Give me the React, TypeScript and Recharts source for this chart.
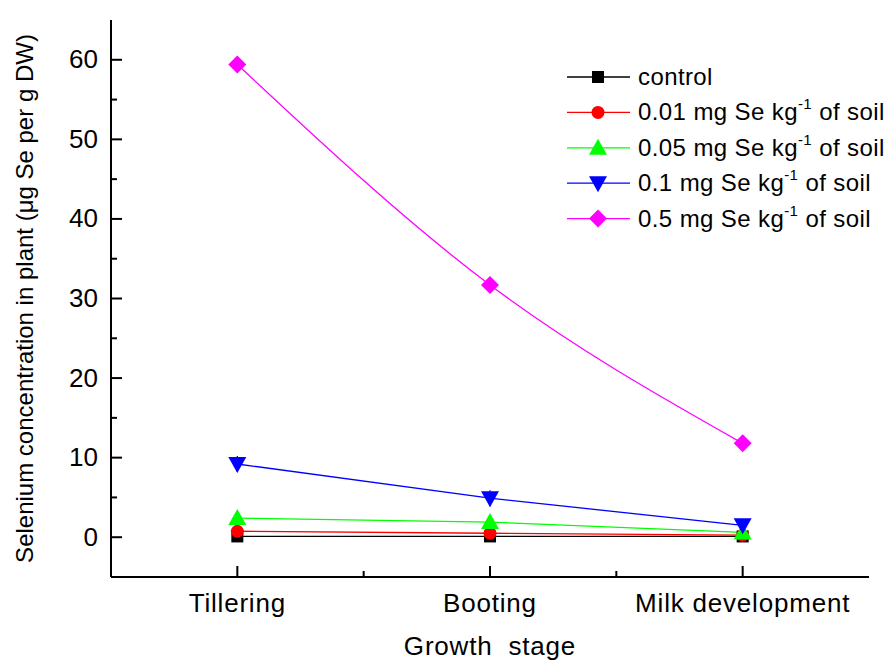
import { LineChart, Line, XAxis, YAxis, ErrorBar } from "recharts";

const stages = ["Tillering", "Booting", "Milk development"];
const control = [0.1, 0.1, 0.1];
const se001 = [0.75, 0.5, 0.25];
const se005 = [2.4, 1.9, 0.6];
const se01 = [9.2, 4.9, 1.5];
const se01Err = [1.0, 1.0, 0.8];
const se05 = [59.4, 31.7, 11.8];
const yTicks = [0, 5, 10, 15, 20, 25, 30, 35, 40, 45, 50, 55, 60];
const xTicks = [0, 0.5, 1, 1.5, 2];

const series = [
  { key: "control", name: "control", sup: "", rest: "", color: "#000000", shape: "square" },
  { key: "se001", name: "0.01 mg Se kg", sup: "-1", rest: " of soil", color: "#ff0000", shape: "circle" },
  { key: "se005", name: "0.05 mg Se kg", sup: "-1", rest: " of soil", color: "#00ff00", shape: "up" },
  { key: "se01", name: "0.1 mg Se kg", sup: "-1", rest: " of soil", color: "#0000ff", shape: "down" },
  { key: "se05", name: "0.5 mg Se kg", sup: "-1", rest: " of soil", color: "#ff00ff", shape: "diamond" },
];

const data = stages.map((s, i) => ({
  x: i,
  stage: s,
  control: control[i],
  se001: se001[i],
  se005: se005[i],
  se01: se01[i],
  se01Err: se01Err[i],
  se05: se05[i],
}));

const FONT = "'Liberation Sans', Arial, sans-serif";

function Marker({ cx, cy, shape, color }: any) {
  if (cx == null || cy == null) return null;
  if (shape === "square") return <rect x={cx - 6} y={cy - 6} width={12} height={12} fill={color} />;
  if (shape === "circle") return <circle cx={cx} cy={cy} r={6.5} fill={color} />;
  if (shape === "up")
    return <polygon points={`${cx},${cy - 9} ${cx - 9},${cy + 7} ${cx + 9},${cy + 7}`} fill={color} />;
  if (shape === "down")
    return <polygon points={`${cx},${cy + 9} ${cx - 9},${cy - 7} ${cx + 9},${cy - 7}`} fill={color} />;
  return <polygon points={`${cx},${cy - 9} ${cx + 9},${cy} ${cx},${cy + 9} ${cx - 9},${cy}`} fill={color} />;
}

function XTick({ x, y, payload }: any) {
  const v = payload.value;
  const major = Number.isInteger(v);
  return (
    <g>
      <line x1={x} x2={x} y1={y} y2={y - (major ? 11 : 6)} stroke="#000" strokeWidth={2} />
      {major && (
        <text x={x} y={y + 35} textAnchor="middle" fontSize={26} letterSpacing={0.8} fontFamily={FONT} fill="#000">
          {stages[v]}
        </text>
      )}
    </g>
  );
}

function YTick({ x, y, payload }: any) {
  const v = payload.value;
  const major = v % 10 === 0;
  return (
    <g>
      <line x1={x} x2={x + (major ? 11 : 6)} y1={y} y2={y} stroke="#000" strokeWidth={2} />
      {major && (
        <text x={x - 13} y={y + 8.5} textAnchor="end" fontSize={26} fontFamily={FONT} fill="#000">
          {v}
        </text>
      )}
    </g>
  );
}

function LegendBox() {
  return (
    <svg width={330} height={200}>
      {series.map((s, i) => {
        const cy = 15 + i * 35.4;
        return (
          <g key={s.key}>
            <line x1={7} x2={70} y1={cy} y2={cy} stroke={s.color} strokeWidth={1.3} />
            <Marker cx={38} cy={cy} shape={s.shape} color={s.color} />
            <text x={78} y={cy + 8} fontSize={24} letterSpacing={0.4} fontFamily={FONT} fill="#000">
              {s.name}
              {s.sup && (
                <tspan fontSize={15} dy={-11}>
                  {s.sup}
                </tspan>
              )}
              {s.rest && <tspan dy={11}>{s.rest}</tspan>}
            </text>
          </g>
        );
      })}
    </svg>
  );
}

export default function App() {
  return (
    <div style={{ position: "absolute", left: 0, top: 0, width: 887, height: 661, background: "#fff" }}>
      <LineChart width={887} height={661} data={data} margin={{ top: 20, right: 18, bottom: 0, left: 0 }}>
        <XAxis
          dataKey="x"
          type="number"
          domain={[-0.5, 2.5]}
          ticks={xTicks}
          interval={0}
          height={84}
          tickSize={0}
          tickMargin={0}
          tickLine={false}
          axisLine={{ stroke: "#000", strokeWidth: 2 }}
          tick={<XTick />}
          label={({ viewBox }: any) => (
            <text
              x={viewBox.x + viewBox.width / 2}
              y={655}
              textAnchor="middle"
              fontSize={26}
              letterSpacing={0.8}
              fontFamily={FONT}
              fill="#000"
            >
              {"Growth\u00a0 stage"}
            </text>
          )}
        />
        <YAxis
          type="number"
          domain={[-5, 65]}
          ticks={yTicks}
          interval={0}
          width={111}
          tickSize={0}
          tickMargin={0}
          tickLine={false}
          axisLine={{ stroke: "#000", strokeWidth: 2 }}
          tick={<YTick />}
          label={({ viewBox }: any) => {
            const cx = 33;
            const cy = viewBox.y + viewBox.height / 2;
            return (
              <text
                x={cx}
                y={cy}
                transform={`rotate(-90, ${cx}, ${cy})`}
                textAnchor="middle"
                fontSize={24}
                fontFamily={FONT}
                fill="#000"
              >
                Selenium concentration in plant (μg Se per g DW)
              </text>
            );
          }}
        />
        {series.map((s) => (
          <Line
            key={s.key}
            dataKey={s.key}
            type={s.key === "se05" ? "natural" : "linear"}
            stroke={s.color}
            strokeWidth={1.3}
            isAnimationActive={false}
            dot={(p: any) => <Marker key={`${s.key}-${p.index}`} cx={p.cx} cy={p.cy} shape={s.shape} color={s.color} />}
            activeDot={false}
          >
            {s.key === "se01" && <ErrorBar dataKey="se01Err" direction="y" width={0} stroke={s.color} strokeWidth={1.3} />}
          </Line>
        ))}
      </LineChart>
      <div style={{ position: "absolute", left: 560, top: 62 }}>
        <LegendBox />
      </div>
    </div>
  );
}
